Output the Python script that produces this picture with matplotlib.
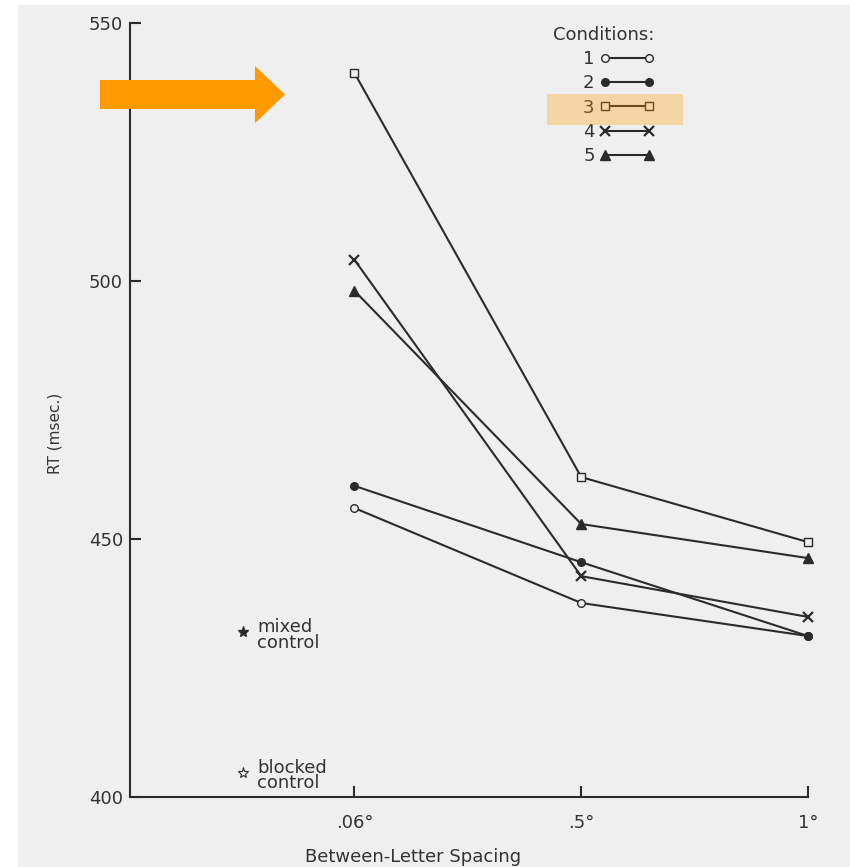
import matplotlib.pyplot as plt
from matplotlib.patches import FancyArrow, Rectangle

# Reaction time by between-letter spacing, one line per condition
spacing = ['.06°', '.5°', '1°']
cond_labels = ['1', '2', '3', '4', '5']
rt_c1 = [456.0, 437.6, 431.2]
rt_c2 = [460.3, 445.5, 431.2]
rt_c3 = [540.3, 462.0, 449.4]
rt_c4 = [504.1, 442.8, 434.9]
rt_c5 = [498.1, 452.9, 446.3]
mixed_control = 432.0
blocked_control = 404.7

paper = '#efefef'
ink = '#2b2b2b'
text_col = '#333333'

fig = plt.figure(figsize=(8.5, 8.67), dpi=100, facecolor=paper)
ax = fig.add_axes([0.1529, 0.0807, 0.7977, 0.8928])
ax.set_facecolor(paper)

xs = list(range(len(spacing)))
styles = [
    dict(marker='o', mfc=paper, ms=5.5),
    dict(marker='o', mfc=ink, ms=5.5),
    dict(marker='s', mfc=paper, ms=5.5),
    dict(marker='x', mfc=ink, ms=6.5, mew=1.6),
    dict(marker='^', mfc=ink, ms=6.5),
]
for vals, lab, st in zip([rt_c1, rt_c2, rt_c3, rt_c4, rt_c5], cond_labels, styles):
    ax.plot(xs, vals, color=ink, lw=1.5, mec=ink, label=lab, clip_on=False, **st)

# control conditions
ax.plot([-0.49], [mixed_control], marker='*', color=ink, ms=8, clip_on=False)
ax.plot([-0.49], [blocked_control], marker='*', mfc=paper, mec=ink, ms=8, mew=0.8,
        clip_on=False)
ax.text(-0.43, mixed_control - 0.6, 'mixed\ncontrol', fontsize=13, color=text_col,
        va='center', ha='left', linespacing=0.8)
ax.text(-0.43, blocked_control - 0.6, 'blocked\ncontrol', fontsize=13, color=text_col,
        va='center', ha='left', linespacing=0.8)

ax.set_xlim(-0.99, 2)
ax.set_ylim(400, 550)
ax.set_yticks([400, 450, 500, 550])
ax.set_xticks(xs)
ax.set_xticklabels(spacing)
ax.tick_params(axis='both', direction='in', length=8, width=1.5, colors=ink,
               labelsize=13, labelcolor=text_col)
ax.tick_params(axis='x', pad=12)
ax.tick_params(axis='y', pad=5)
for side in ['top', 'right']:
    ax.spines[side].set_visible(False)
for side in ['left', 'bottom']:
    ax.spines[side].set_color(ink)
    ax.spines[side].set_linewidth(1.5)

ax.set_ylabel('RT (msec.)', fontsize=11, color=text_col)
ax.yaxis.set_label_coords(-0.1, 0.47)
ax.set_xlabel('Between-Letter Spacing', fontsize=13, color=text_col)
ax.xaxis.set_label_coords(0.417, -0.066)

leg = ax.legend(title='Conditions:', markerfirst=False, numpoints=2, frameon=False,
                loc='upper left', bbox_to_anchor=(0.605, 1.013), fontsize=13,
                title_fontsize=13, handlelength=3.0, handletextpad=0.3,
                labelspacing=0.35, borderpad=0.2)
for t in leg.get_texts():
    t.set_color(text_col)
leg.get_title().set_color(text_col)
leg._legend_box.align = 'right'

# highlight on condition 3 and the pointer arrow
fig.add_artist(Rectangle((547 / 850, 1 - 125 / 867), 136 / 850, 31 / 867,
                         transform=fig.transFigure, facecolor='#ff9900', alpha=0.3,
                         edgecolor='none', zorder=5))
fig.add_artist(FancyArrow(100 / 850, 1 - 94.5 / 867, 185 / 850, 0, width=29 / 867,
                          head_width=57 / 867, head_length=30 / 850,
                          length_includes_head=True, transform=fig.transFigure,
                          color='#ff9900', ec='none', zorder=6))

# scan border
fig.add_artist(Rectangle((0, 0), 18 / 850, 1, transform=fig.transFigure,
                         facecolor='white', edgecolor='none'))
fig.add_artist(Rectangle((0, 1 - 5 / 867), 1, 5 / 867, transform=fig.transFigure,
                         facecolor='white', edgecolor='none'))

fig.savefig('out.png', dpi=100, facecolor=paper)
